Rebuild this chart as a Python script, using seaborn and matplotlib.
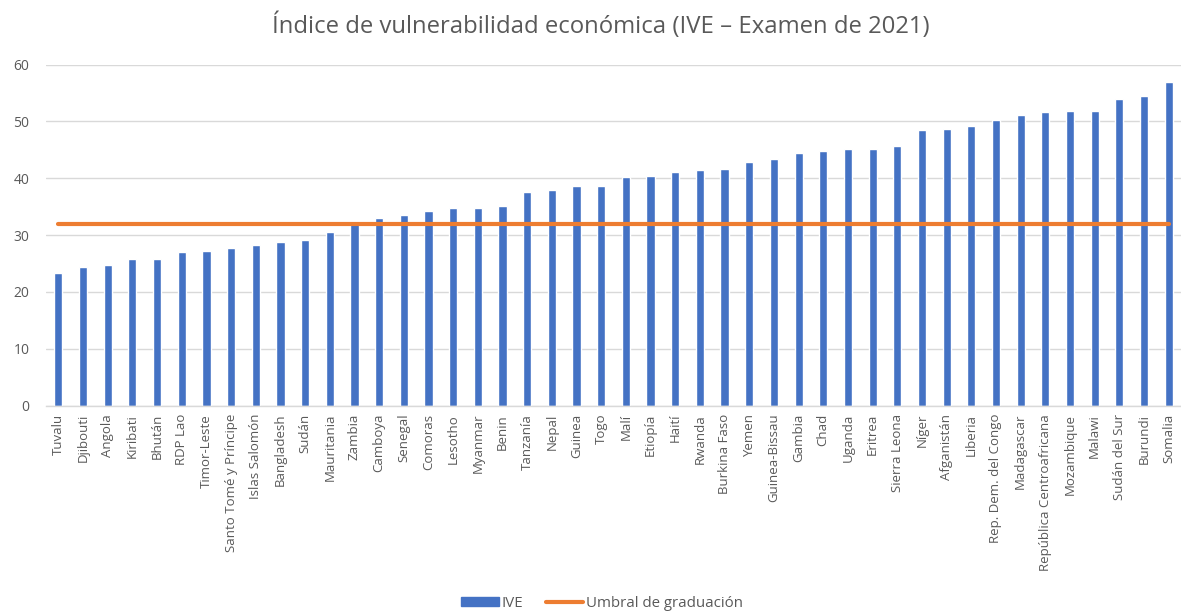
import matplotlib
matplotlib.use("Agg")
import matplotlib.pyplot as plt
import seaborn as sns
import pandas as pd
from matplotlib.patches import Patch
from matplotlib.lines import Line2D

paises = ["Tuvalu", "Djibouti", "Angola", "Kiribati", "Bhután", "RDP Lao", "Timor-Leste",
          "Santo Tomé y Príncipe", "Islas Salomón", "Bangladesh", "Sudán", "Mauritania",
          "Zambia", "Camboya", "Senegal", "Comoras", "Lesotho", "Myanmar", "Benin",
          "Tanzanía", "Nepal", "Guinea", "Togo", "Malí", "Etiopía", "Haití", "Rwanda",
          "Burkina Faso", "Yemen", "Guinea-Bissau", "Gambia", "Chad", "Uganda", "Eritrea",
          "Sierra Leona", "Níger", "Afganistán", "Liberia", "Rep. Dem. del Congo",
          "Madagascar", "República Centroafricana", "Mozambique", "Malawi",
          "Sudán del Sur", "Burundi", "Somalia"]
ive = [23.3, 24.3, 24.7, 25.8, 25.8, 27.0, 27.2, 27.7, 28.3, 28.8, 29.1, 30.6,
       32.0, 33.0, 33.5, 34.3, 34.7, 34.8, 35.1, 37.6, 37.9, 38.7, 38.7, 40.2,
       40.3, 41.0, 41.4, 41.6, 42.9, 43.4, 44.4, 44.8, 45.1, 45.1, 45.6, 48.4,
       48.6, 49.2, 50.2, 51.2, 51.7, 51.8, 51.9, 53.9, 54.5, 57.0]
umbral = 32

df = pd.DataFrame({"pais": paises, "IVE": ive, "umbral": [umbral] * len(paises)})

sns.set_theme(style="white")
plt.rcParams["font.family"] = ["Open Sans", "DejaVu Sans"]

gray = "#595959"
blue = "#4472C4"
orange = "#ED7D31"

fig = plt.figure(figsize=(11.81, 6.12), dpi=100)
ax = fig.add_axes([0.039, 0.3374, 0.961, 0.5572])

sns.barplot(data=df, x="pais", y="IVE", color=blue, width=0.33, saturation=1, ax=ax, zorder=2)
sns.lineplot(data=df, x="pais", y="umbral", color=orange, linewidth=3, ax=ax, zorder=3)

ax.set_ylim(0, 60)
ax.set_xlim(-0.5, len(paises) - 0.5)
ax.set_yticks(range(0, 61, 10))
ax.yaxis.grid(True, color="#d9d9d9", linewidth=1)
ax.set_axisbelow(True)
for s in ["top", "right", "left"]:
    ax.spines[s].set_visible(False)
ax.spines["bottom"].set_color("#d9d9d9")
ax.spines["bottom"].set_linewidth(1)
ax.set_xlabel("")
ax.set_ylabel("")
ax.tick_params(axis="x", labelrotation=90, labelsize=9.5, colors=gray, length=0, pad=6)
ax.tick_params(axis="y", labelsize=10, colors=gray, length=0, pad=12)

fig.text(0.509, 0.958, "Índice de vulnerabilidad económica (IVE – Examen de 2021)",
         ha="center", va="center", fontsize=17.2, color=gray)

handles = [Patch(facecolor=blue, edgecolor=blue),
           Line2D([0], [0], color=orange, linewidth=3)]
fig.legend(handles, ["IVE", "Umbral de graduación"], loc="center", bbox_to_anchor=(0.51, 0.014),
           ncol=2, frameon=False, fontsize=10.8, labelcolor=gray, handlelength=2.5,
           handleheight=0.6, columnspacing=1.5, handletextpad=0.2)

fig.savefig("out.png", dpi=100)
